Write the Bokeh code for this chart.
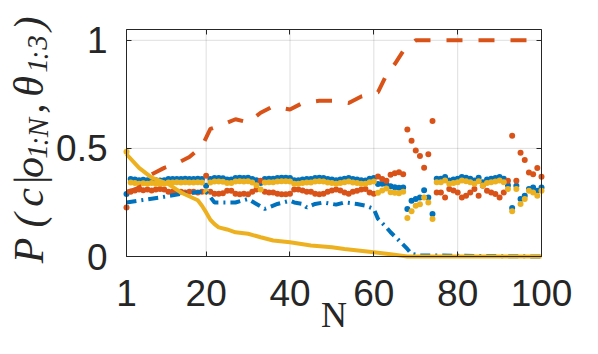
import math
from bokeh.plotting import figure
from bokeh.models import Range1d, FixedTicker, LinearAxis, Label, CustomJSTickFormatter
from bokeh.embed import file_html
from bokeh.resources import INLINE

# ---------------- data ----------------
N = list(range(1, 101))

red_dots = [0.227, 0.300, 0.305, 0.310, 0.307, 0.310, 0.305, 0.310, 0.312, 0.310,
            0.300, 0.300, 0.298, 0.300, 0.296, 0.300, 0.300, 0.296, 0.300, 0.373,
            0.300, 0.290, 0.290, 0.292, 0.304, 0.304, 0.290, 0.288, 0.290, 0.288,
            0.300, 0.310, 0.350, 0.300, 0.296, 0.296, 0.290, 0.288, 0.288, 0.290,
            0.310, 0.310, 0.305, 0.300, 0.300, 0.290, 0.288, 0.290, 0.300, 0.305,
            0.310, 0.305, 0.296, 0.290, 0.300, 0.304, 0.310, 0.312, 0.296, 0.290,
            0.370, 0.358, 0.350, 0.378, 0.385, 0.390, 0.381, 0.588, 0.535, 0.490,
            0.465, 0.410, 0.473, 0.627, 0.296, 0.296, 0.273, 0.312, 0.305, 0.296,
            0.273, 0.281, 0.296, 0.312, 0.281, 0.327, 0.304, 0.296, 0.289, 0.273,
            0.296, 0.350, 0.558, 0.350, 0.480, 0.446, 0.389, 0.381, 0.409, 0.369]

blue_dots = [0.289, 0.358, 0.356, 0.353, 0.355, 0.353, 0.356, 0.353, 0.352, 0.353,
             0.358, 0.358, 0.359, 0.358, 0.360, 0.358, 0.358, 0.360, 0.358, 0.327,
             0.358, 0.363, 0.363, 0.362, 0.356, 0.356, 0.363, 0.364, 0.363, 0.364,
             0.358, 0.353, 0.340, 0.358, 0.360, 0.360, 0.363, 0.364, 0.364, 0.363,
             0.353, 0.353, 0.356, 0.358, 0.358, 0.363, 0.364, 0.363, 0.358, 0.356,
             0.353, 0.356, 0.360, 0.363, 0.358, 0.356, 0.353, 0.352, 0.360, 0.363,
             0.335, 0.337, 0.335, 0.325, 0.320, 0.318, 0.319, 0.220, 0.258, 0.266,
             0.273, 0.307, 0.273, 0.197, 0.360, 0.360, 0.368, 0.352, 0.356, 0.360,
             0.368, 0.364, 0.360, 0.352, 0.364, 0.344, 0.356, 0.360, 0.363, 0.368,
             0.360, 0.330, 0.224, 0.327, 0.266, 0.281, 0.312, 0.319, 0.304, 0.319]

yellow_dots = [0.484, 0.342, 0.340, 0.337, 0.339, 0.337, 0.340, 0.337, 0.336, 0.337,
               0.342, 0.342, 0.343, 0.342, 0.344, 0.342, 0.342, 0.344, 0.342, 0.300,
               0.342, 0.347, 0.347, 0.346, 0.340, 0.340, 0.347, 0.348, 0.347, 0.348,
               0.342, 0.330, 0.310, 0.342, 0.344, 0.344, 0.347, 0.348, 0.348, 0.347,
               0.337, 0.337, 0.340, 0.342, 0.342, 0.347, 0.348, 0.347, 0.342, 0.340,
               0.337, 0.340, 0.344, 0.347, 0.342, 0.340, 0.337, 0.336, 0.344, 0.347,
               0.295, 0.305, 0.315, 0.297, 0.295, 0.292, 0.300, 0.178, 0.209, 0.235,
               0.242, 0.273, 0.250, 0.174, 0.344, 0.344, 0.352, 0.336, 0.340, 0.344,
               0.352, 0.348, 0.344, 0.336, 0.348, 0.328, 0.340, 0.344, 0.347, 0.352,
               0.344, 0.312, 0.209, 0.312, 0.243, 0.266, 0.304, 0.296, 0.281, 0.304]

red_line_N = [1, 3, 5, 7, 10, 13, 16, 19, 21, 24, 27, 30, 33, 36, 40, 43, 47, 51, 54,
              57, 60, 61, 63, 65, 67, 70, 100]
red_line = [0.300, 0.310, 0.330, 0.380, 0.410, 0.430, 0.460, 0.510, 0.590, 0.610,
            0.635, 0.620, 0.665, 0.695, 0.680, 0.710, 0.720, 0.720, 0.710, 0.740,
            0.755, 0.760, 0.840, 0.890, 0.950, 1.000, 1.000]

blue_line_N = [1, 5, 9, 14, 19, 20, 22, 25, 27, 30, 32, 34, 35, 37, 40, 41, 43, 44,
               46, 48, 51, 53, 56, 58, 60, 61, 63, 64, 66, 68, 69, 71, 100]
blue_line = [0.250, 0.262, 0.273, 0.290, 0.300, 0.300, 0.250, 0.250, 0.250, 0.266,
             0.243, 0.220, 0.227, 0.243, 0.258, 0.250, 0.243, 0.227, 0.243, 0.250,
             0.240, 0.250, 0.243, 0.235, 0.220, 0.174, 0.135, 0.112, 0.074, 0.035,
             0.012, 0.005, 0.000]

yellow_line_N = [1, 4, 7, 11, 14, 18, 19, 20, 21, 22, 23, 25, 27, 30, 33, 36, 40,
                 45, 50, 53, 60, 64, 68, 100]
yellow_line = [0.473, 0.410, 0.365, 0.335, 0.296, 0.260, 0.235, 0.204, 0.170, 0.150,
               0.135, 0.125, 0.112, 0.105, 0.089, 0.074, 0.066, 0.051, 0.043, 0.035,
               0.020, 0.010, 0.000, 0.000]

x_limits = (1, 100)
y_limits = (0, 1.05)
x_ticks = [1, 20, 40, 60, 80, 100]
y_ticks = [0, 0.5, 1]
y_tick_labels = {0: "0", 0.5: "0.5", 1: "1"}

BLUE = "#0072BD"
RED = "#D95319"
YELLOW = "#EDB120"
AX = "#262626"

# ---------------- layout (pixels) ----------------
W, H = 582, 338
BOX_L, BOX_R, BOX_T, BOX_B = 126, 541, 29, 256   # plot box in canvas pixels
sx = (BOX_R - BOX_L) / (x_limits[1] - x_limits[0])
sy = (BOX_B - BOX_T) / (y_limits[1] - y_limits[0])
xr = Range1d(x_limits[0] - BOX_L / sx, x_limits[1] + (W - BOX_R) / sx)
yr = Range1d(y_limits[0] - (H - BOX_B) / sy, y_limits[1] + BOX_T / sy)

def dx(px):
    return x_limits[0] + (px - BOX_L) / sx

def dy(py):
    return y_limits[0] + (BOX_B - py) / sy

p = figure(width=W, height=H, output_backend="svg", toolbar_location=None,
           x_range=xr, y_range=yr, min_border=0)
p.background_fill_color = "white"
p.border_fill_color = "white"
p.outline_line_color = None
p.grid.visible = False

def style_axis(ax, ticks, loc, bounds, labels=True):
    ax.ticker = FixedTicker(ticks=ticks)
    ax.fixed_location = loc
    ax.bounds = bounds
    ax.axis_line_color = AX
    ax.axis_line_width = 1
    ax.major_tick_line_color = AX
    ax.major_tick_in = 5
    ax.major_tick_out = 0
    ax.minor_tick_line_color = None
    ax.major_label_text_font = "Liberation Sans"
    ax.major_label_text_font_size = "37px"
    ax.major_label_text_color = AX
    if not labels:
        ax.formatter = CustomJSTickFormatter(code="return ''")

style_axis(p.xaxis[0], x_ticks, y_limits[0], x_limits)
p.xaxis.major_label_standoff = 23
style_axis(p.yaxis[0], y_ticks, x_limits[0], y_limits)
p.yaxis.major_label_overrides = y_tick_labels
p.yaxis.major_label_standoff = 19

top = LinearAxis()
style_axis(top, x_ticks, y_limits[1], x_limits, labels=False)
right = LinearAxis()
style_axis(right, y_ticks, x_limits[1], y_limits, labels=False)
p.add_layout(top, "above")
p.add_layout(right, "right")

# grid lines at the tick positions, inside the plot box only
p.segment(x0=x_ticks, y0=[y_limits[0]] * len(x_ticks), x1=x_ticks,
          y1=[y_limits[1]] * len(x_ticks), line_color=AX, line_alpha=0.15,
          line_width=1, level="underlay")
p.segment(x0=[x_limits[0]] * len(y_ticks), y0=y_ticks, x1=[x_limits[1]] * len(y_ticks),
          y1=y_ticks, line_color=AX, line_alpha=0.15, line_width=1, level="underlay")

# dots
p.scatter(N, blue_dots, size=6, color=BLUE, line_color=None)
p.scatter(N, red_dots, size=6, color=RED, line_color=None)
p.scatter(N, yellow_dots, size=6, color=YELLOW, line_color=None)

# lines
p.line(red_line_N, red_line, color=RED, line_width=4, line_dash="16 16")
p.line(blue_line_N, blue_line, color=BLUE, line_width=4, line_dash="10 5 2 5")
p.line(yellow_line_N, yellow_line, color=YELLOW, line_width=4)

# ---------------- axis titles ----------------
p.add_layout(Label(x=dx(333.5), y=dy(314), text="N", text_align="center",
                   text_baseline="middle", text_font="Liberation Serif",
                   text_font_size="36px", text_color=AX))

main_sz = "42px"
sub_sz = "29px"
ylabel_chars = [
    ("P", 250, False), ("(", 220, False), ("c", 197, False), ("|", 180, False),
    ("o", 167, False), ("1", 151, True), (":", 141, True), ("N", 127, True),
    (",", 108, False), ("θ", 86, False), ("1", 65, True), (":", 55, True),
    ("3", 42, True), (")", 23, False),
]
for ch, cy, sub in ylabel_chars:
    bx = 37 if sub else 28
    p.add_layout(Label(x=dx(bx), y=dy(cy), text=ch, angle=math.pi / 2,
                       text_align="center", text_baseline="middle",
                       text_font="Liberation Serif", text_font_style="italic",
                       text_font_size=sub_sz if sub else main_sz, text_color=AX))

open("out.html", "w").write(file_html(p, INLINE))
